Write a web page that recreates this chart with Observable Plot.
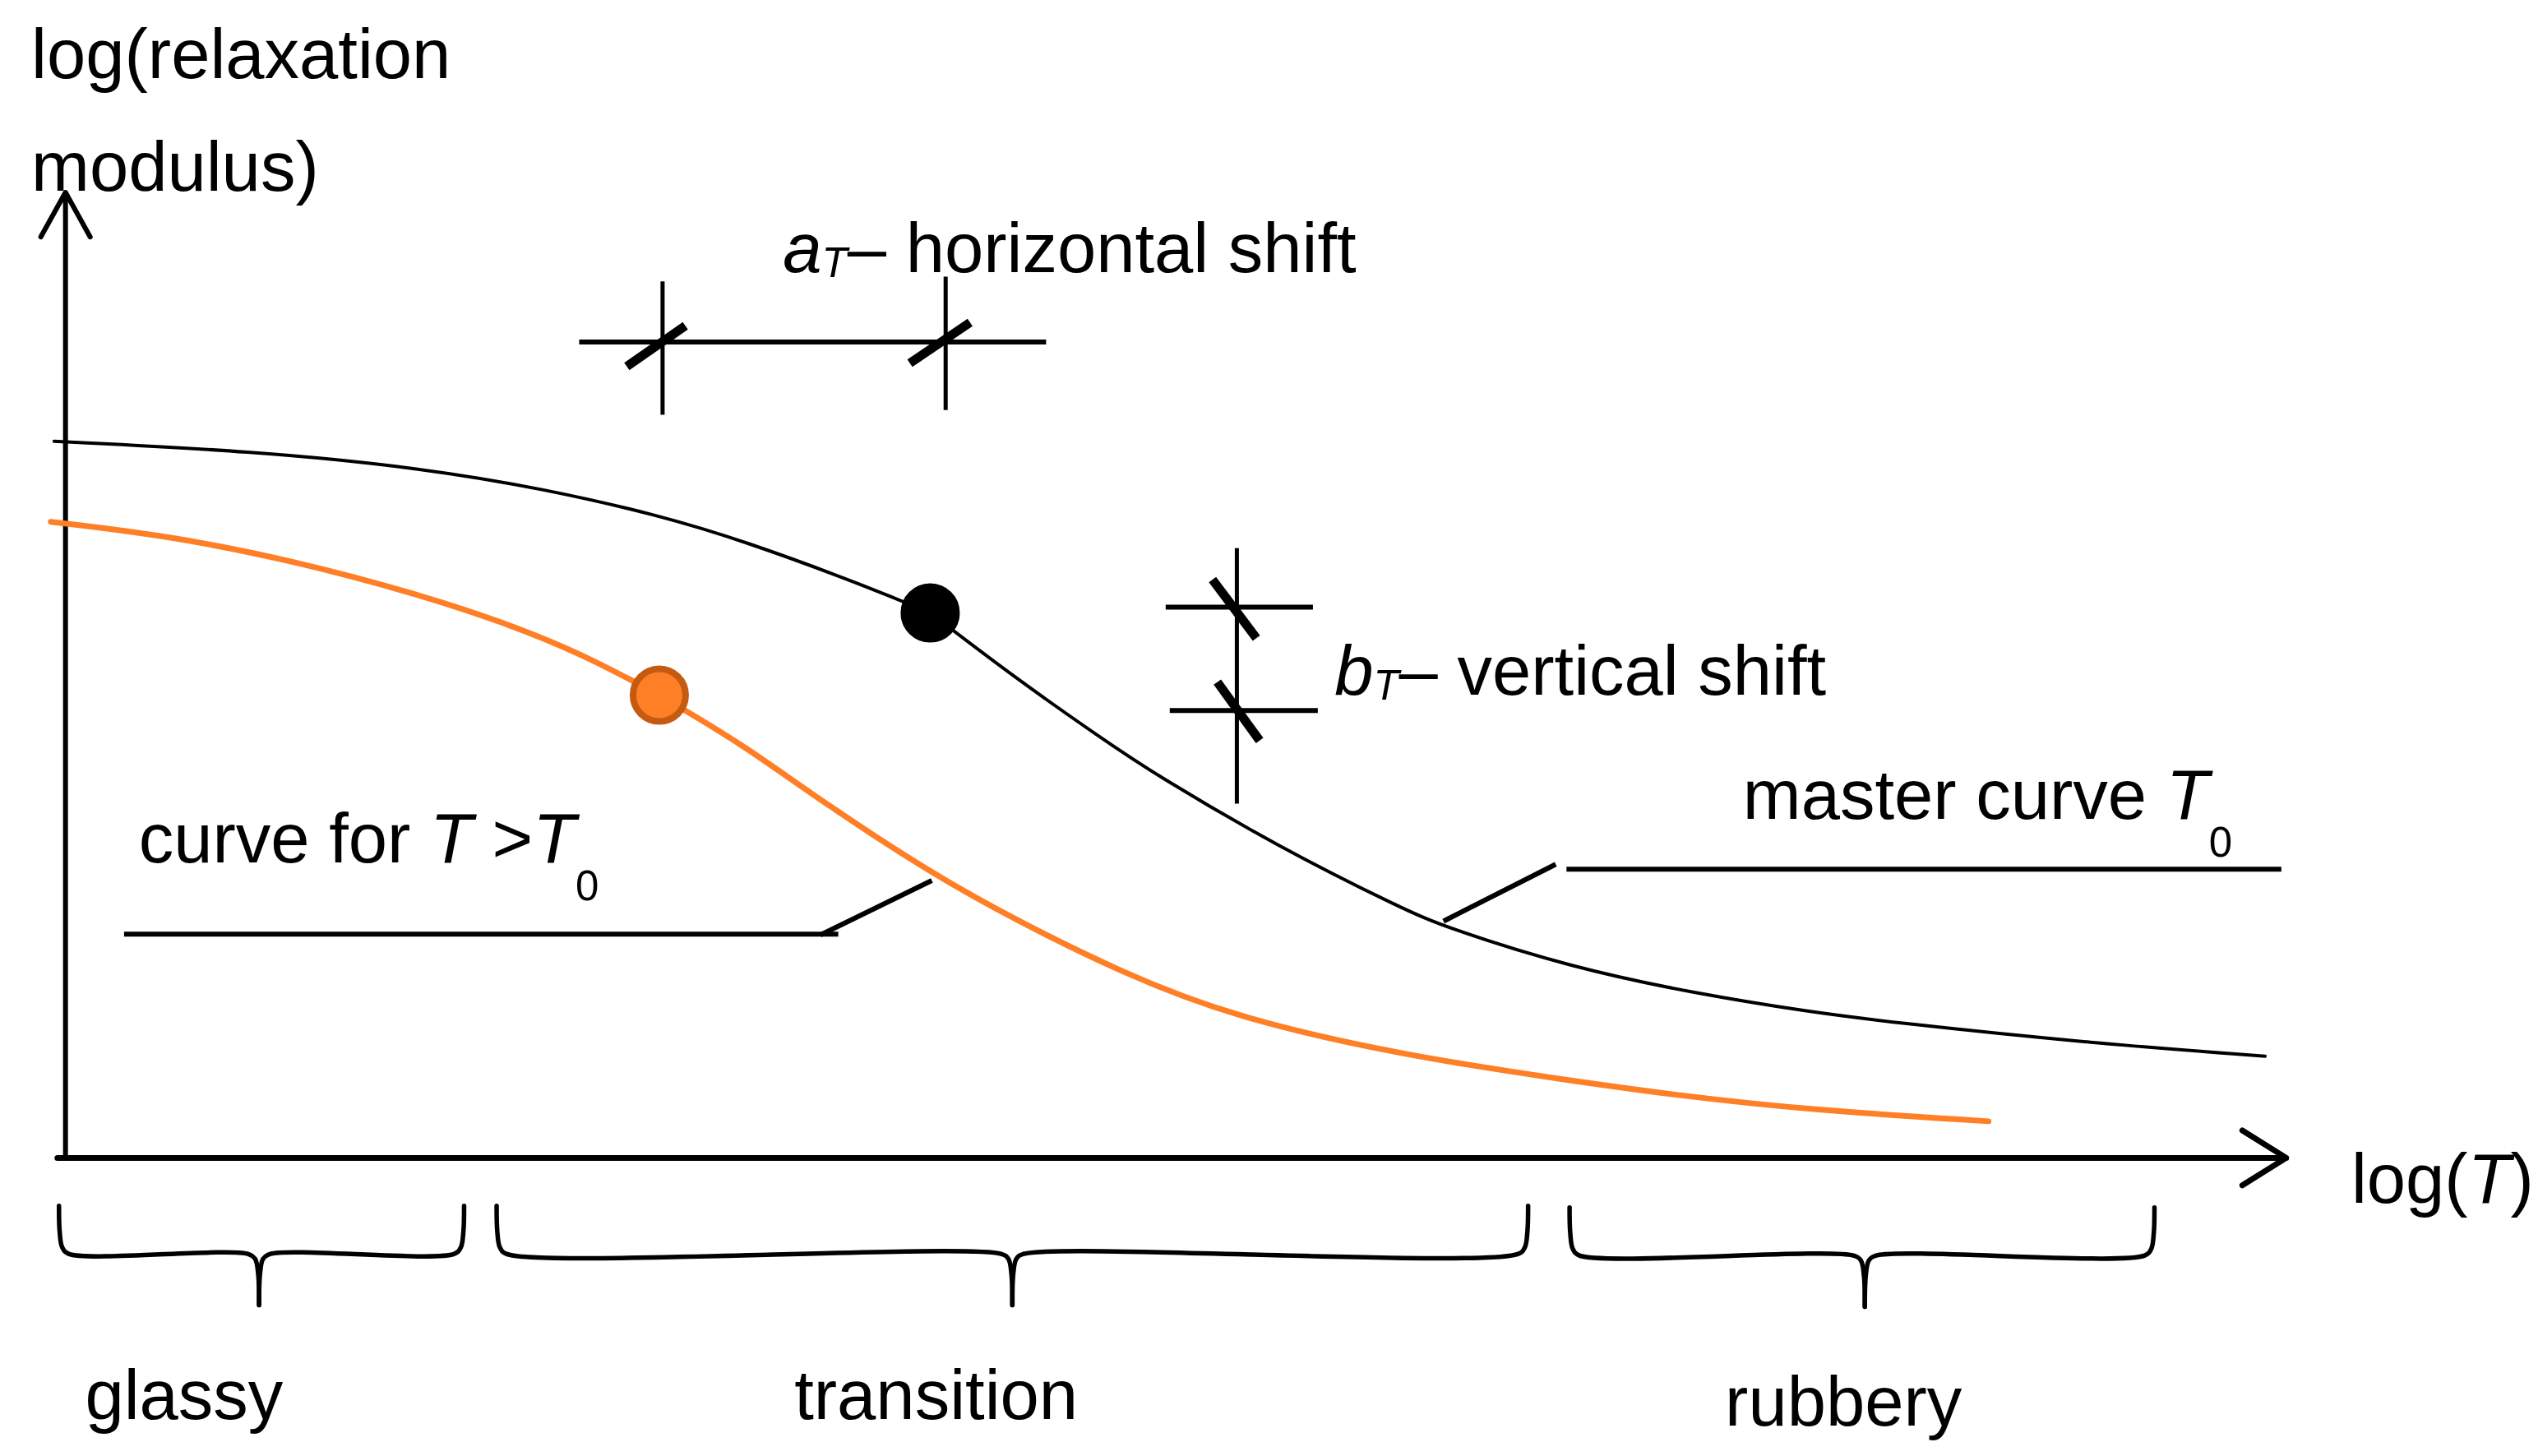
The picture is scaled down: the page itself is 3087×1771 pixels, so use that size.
<!DOCTYPE html>
<html>
<head>
<meta charset="utf-8">
<script src="https://cdn.jsdelivr.net/npm/d3@7"></script>
<script src="https://cdn.jsdelivr.net/npm/@observablehq/plot@0.6"></script>
<style>
  html, body { margin: 0; padding: 0; background: #ffffff; }
  #chart svg { display: block; }
</style>
</head>
<body>
<div id="chart"></div>
<script>
// ---- Data (schematic units: x = log(T), y = log(relaxation modulus)) ----
const masterX = [-0.07, 1.15, 2.18, 2.95, 3.64, 4.17, 4.94, 5.315, 5.845, 6.36, 6.70, 7.45, 8.22, 8.48, 9.25, 10.025, 10.72, 11.19, 12.43, 13.52];
const masterY = [4.44, 4.38, 4.277, 4.146, 3.987, 3.828, 3.543, 3.385, 2.98, 2.62, 2.39, 1.95, 1.565, 1.453, 1.207, 1.044, 0.933, 0.872, 0.742, 0.66];

const shiftedX = [-0.09, 0.63, 1.405, 2.18, 2.69, 3.17, 3.65, 3.81, 4.17, 4.68, 5.33, 5.845, 6.49, 7.18, 8.22, 9.25, 9.94, 10.72, 11.82];
const shiftedY = [3.945, 3.86, 3.705, 3.496, 3.328, 3.136, 2.88, 2.785, 2.57, 2.205, 1.78, 1.495, 1.175, 0.90, 0.665, 0.51, 0.415, 0.33, 0.26];

// reference points on each curve (where each curve has its joint)
const dotX = [5.315, 3.65];
const dotY = [3.385, 2.88];
const dotFill = ["#000000", "#FF7F27"];
const dotStroke = ["#000000", "#C55A11"];

// axes
const axisOriginY = 0.035;
const axisXMin = -0.05, axisXMax = 13.65;
const axisYMax = 5.97;

// horizontal shift a_T marker
const aLineY = 5.05, aLineX = [3.16, 6.03];
const aTickX = [3.67, 5.41];
const aTickY1 = [4.60, 4.63], aTickY2 = [5.42, 5.45];
// vertical shift b_T marker
const bLineX = 7.20, bLineY = [2.21, 3.78];
const bTickY = [3.42, 2.785];
const bTickX1 = [6.765, 6.79], bTickX2 = [7.67, 7.70];

// slash marks (start/end)
const slashX1 = [3.45, 5.19, 7.05, 7.08];
const slashY1 = [4.90, 4.92, 3.59, 2.96];
const slashX2 = [3.81, 5.56, 7.32, 7.34];
const slashY2 = [5.15, 5.17, 3.23, 2.60];

// leader lines
const leaderX1 = [9.226, 9.16, 0.36, 4.64];
const leaderY1 = [1.81, 1.84, 1.41, 1.405];
const leaderX2 = [13.62, 8.47, 4.75, 5.325];
const leaderY2 = [1.81, 1.49, 1.41, 1.74];

// region braces
const regions = ["glassy", "transition", "rubbery"];
const braceStart = [-0.04, 2.65, 9.245];
const braceEnd = [2.45, 8.99, 12.84];
const braceMid = [1.19, 5.82, 11.06];
const braceTop = [-0.26, -0.26, -0.27];
const braceBar = [-0.555, -0.555, -0.565];
const braceTip = [-0.87, -0.87, -0.88];
const regionLabelX = [0.12, 4.48, 10.20];
const regionLabelY = [-1.57, -1.57, -1.61];

// plain text labels
const plainText = ["log(relaxation", "modulus)"];
const plainX = [-0.21, -0.21];
const plainY = [6.67, 5.98];

// rich text labels: [text, style] ("i" italic, "sub" subscript)
const richParts = [
  [["a", "i"], ["T", "i sub1"], ["– horizontal shift", ""]],
  [["b", "i"], ["T", "i sub1"], ["– vertical shift", ""]],
  [["master curve ", ""], ["T", "i"], ["0", "sub2"]],
  [["curve for ", ""], ["T", "i"], [" >", ""], ["T", "i"], ["0", "sub2"]],
  [["log(", ""], ["T", "i"], [")", ""]]
];
const richX = [4.41, 7.80, 10.31, 0.45, 14.05];
const richY = [5.48, 2.88, 2.12, 1.85, -0.24];

// ---- Build tables ----
// each curve is drawn as two smooth pieces that meet at its marked point
function pieces(xs, ys, jx) {
  const out = [];
  xs.forEach((x, i) => {
    if (x <= jx) out.push({x, y: ys[i], z: "a"});
    if (x >= jx) out.push({x, y: ys[i], z: "b"});
  });
  return out;
}
const master = pieces(masterX, masterY, dotX[0]);
const shifted = pieces(shiftedX, shiftedY, dotX[1]);
const dots = dotX.map((x, i) => ({x, y: dotY[i], fill: dotFill[i], stroke: dotStroke[i]}));
const slashes = slashX1.map((x1, i) => ({x1, y1: slashY1[i], x2: slashX2[i], y2: slashY2[i]}));
const leaders = leaderX1.map((x1, i) => ({x1, y1: leaderY1[i], x2: leaderX2[i], y2: leaderY2[i]}));
const aTicks = aTickX.map((x, i) => ({x, y1: aTickY1[i], y2: aTickY2[i]}));
const bTicks = bTickY.map((y, i) => ({y, x1: bTickX1[i], x2: bTickX2[i]}));

// curly-brace outline from each region's extent (two halves per brace)
const bracePts = [];
regions.forEach((r, i) => {
  const x0 = braceStart[i], x1 = braceEnd[i], c = braceMid[i];
  const t = braceTop[i], b = braceBar[i], p = braceTip[i];
  for (const [edge, s] of [[x0, 1], [x1, -1]]) {
    const z = r + (s > 0 ? "L" : "R");
    const pts = [
      [edge, t], [edge + s * 0.004, b + 0.14], [edge + s * 0.02, b + 0.04],
      [edge + s * 0.06, b], [c - s * 0.07, b], [c - s * 0.025, b - 0.03],
      [c - s * 0.006, b - 0.12], [c, p]
    ];
    pts.forEach(([x, y]) => bracePts.push({x, y, z}));
  }
});

const regionLabels = regions.map((r, i) => ({text: r, x: regionLabelX[i], y: regionLabelY[i]}));
const plainLabels = plainText.map((t, i) => ({text: t, x: plainX[i], y: plainY[i]}));
const richLabels = richParts.map((p, i) => ({text: p.map(d => d[0]).join(""), x: richX[i], y: richY[i]}));

const FONT = "'Liberation Sans', Arial, sans-serif";
const FS = 85;
const SUB = 51;

const svg = Plot.plot({
  width: 3087,
  height: 1771,
  margin: 0,
  x: {domain: [-0.4, 15.2], axis: null},
  y: {domain: [-1.80, 7.15], axis: null},
  style: {background: "#ffffff", fontFamily: FONT, color: "#000"},
  marks: [
    // axes with open arrow heads
    Plot.arrow([{x1: 0, y1: axisOriginY, x2: 0, y2: axisYMax}], {x1: "x1", y1: "y1", x2: "x2", y2: "y2", stroke: "#000", strokeWidth: 6, headLength: 15.5, headAngle: 58}),
    Plot.arrow([{x1: axisXMin, y1: axisOriginY, x2: axisXMax, y2: axisOriginY}], {x1: "x1", y1: "y1", x2: "x2", y2: "y2", stroke: "#000", strokeWidth: 7, headLength: 13.5, headAngle: 64}),
    // curves
    Plot.line(master, {x: "x", y: "y", z: "z", stroke: "#000", strokeWidth: 4, curve: "basis"}),
    Plot.line(shifted, {x: "x", y: "y", z: "z", stroke: "#FF7F27", strokeWidth: 7, curve: "basis"}),
    Plot.dot(dots, {x: "x", y: "y", r: 32, fill: "fill", stroke: "stroke", strokeWidth: 8}),
    // a_T marker
    Plot.ruleY([aLineY], {x1: aLineX[0], x2: aLineX[1], stroke: "#000", strokeWidth: 6}),
    Plot.ruleX(aTicks, {x: "x", y1: "y1", y2: "y2", stroke: "#000", strokeWidth: 5}),
    // b_T marker
    Plot.ruleX([bLineX], {y1: bLineY[0], y2: bLineY[1], stroke: "#000", strokeWidth: 5}),
    Plot.ruleY(bTicks, {y: "y", x1: "x1", x2: "x2", stroke: "#000", strokeWidth: 6}),
    Plot.link(slashes, {x1: "x1", y1: "y1", x2: "x2", y2: "y2", stroke: "#000", strokeWidth: 11}),
    // leader lines
    Plot.link(leaders, {x1: "x1", y1: "y1", x2: "x2", y2: "y2", stroke: "#000", strokeWidth: 6}),
    // braces
    Plot.line(bracePts, {x: "x", y: "y", z: "z", stroke: "#000", strokeWidth: 5.5, curve: "catmull-rom", strokeLinejoin: "round"}),
    // texts
    Plot.text(plainLabels, {x: "x", y: "y", text: "text", textAnchor: "start", lineAnchor: "bottom", fontSize: FS, fill: "#000"}),
    Plot.text(regionLabels, {x: "x", y: "y", text: "text", textAnchor: "start", lineAnchor: "bottom", fontSize: FS, fill: "#000"}),
    Plot.text(richLabels, {x: "x", y: "y", text: "text", textAnchor: "start", lineAnchor: "bottom", fontSize: FS, fill: "#000"})
  ]
});

// rich text: italics and subscripts as tspans
const richIndex = new Map(richLabels.map((d, i) => [d.text, i]));
d3.select(svg).selectAll("text").each(function () {
  const i = richIndex.get(this.textContent);
  if (i === undefined) return;
  const el = d3.select(this);
  el.text(null);
  let shift = 0;
  for (const [s, style] of richParts[i]) {
    const t = el.append("tspan").text(s);
    if (style.includes("i")) t.attr("font-style", "italic");
    let target = 0;
    if (style.includes("sub1")) target = 6;
    if (style.includes("sub2")) target = 46;
    if (style.includes("sub")) t.attr("font-size", SUB);
    if (target !== shift) { t.attr("dy", target - shift); shift = target; }
  }
});

document.getElementById("chart").appendChild(svg);
</script>
</body>
</html>
